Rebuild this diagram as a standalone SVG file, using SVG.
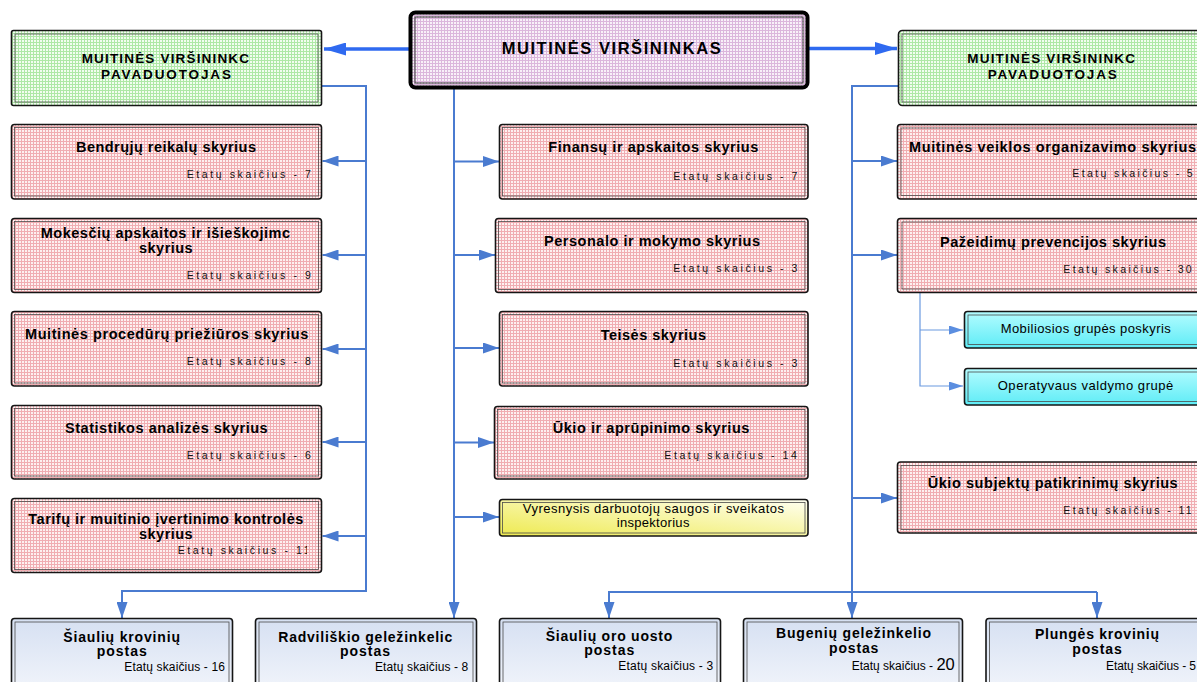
<svg xmlns="http://www.w3.org/2000/svg" width="1197" height="682" viewBox="0 0 1197 682">
<style>
.t{font-family:"Liberation Sans",Arial,sans-serif;font-weight:bold;font-size:14.5px;fill:#000}
.h{font-family:"Liberation Sans",Arial,sans-serif;font-weight:bold;font-size:13.5px;fill:#000}
.e{font-family:"Liberation Sans",Arial,sans-serif;font-size:10.5px;letter-spacing:2.6px;fill:#111}
.r{font-family:"Liberation Sans",Arial,sans-serif;font-size:13px;fill:#000}
.b{font-family:"Liberation Sans",Arial,sans-serif;font-weight:bold;font-size:14px;fill:#000}
.be{font-family:"Liberation Sans",Arial,sans-serif;font-size:12px;fill:#000}
.o{stroke:#151515;stroke-width:1.6}
.i{fill:none;stroke:#4a4a4a;stroke-width:0.8}
.c{fill:none;stroke:#4a7bd0;stroke-width:2}
.ct{fill:none;stroke:#2f6af0;stroke-width:3.5}
.cs{fill:none;stroke:#6b9ae0;stroke-width:1.2}
</style>
<defs>
<pattern id="pk" width="3" height="3" patternUnits="userSpaceOnUse"><rect width="3" height="3" fill="#fdf0f0"/><path d="M0 0.5H3M0.5 0V3" stroke="#f0adb2" stroke-width="1"/></pattern>
<pattern id="gr" width="3" height="3" patternUnits="userSpaceOnUse"><rect width="3" height="3" fill="#f2fdf0"/><path d="M0 0.5H3M0.5 0V3" stroke="#aee8a6" stroke-width="1"/></pattern>
<pattern id="lv" width="3" height="3" patternUnits="userSpaceOnUse"><rect width="3" height="3" fill="#f8f0f8"/><path d="M0 0.5H3M0.5 0V3" stroke="#dbb6dc" stroke-width="1"/></pattern>
<linearGradient id="cy" x1="0" y1="0" x2="0" y2="1"><stop offset="0" stop-color="#b4fcff"/><stop offset="1" stop-color="#5eecf6"/></linearGradient>
<linearGradient id="ye" x1="0" y1="1" x2="1" y2="0"><stop offset="0" stop-color="#eeea50"/><stop offset="1" stop-color="#fffff2"/></linearGradient>
<linearGradient id="bl" x1="0" y1="0" x2="0" y2="1"><stop offset="0" stop-color="#d6e0f2"/><stop offset="1" stop-color="#f2f5fb"/></linearGradient>
<marker id="a" markerUnits="userSpaceOnUse" markerWidth="16" markerHeight="11" viewBox="0 0 16 11" refX="16" refY="5.5" orient="auto"><path d="M0 0L16 5.5L0 11z" fill="#4a7bd0"/></marker>
<marker id="ab" markerUnits="userSpaceOnUse" markerWidth="22" markerHeight="13" viewBox="0 0 22 13" refX="22" refY="6.5" orient="auto"><path d="M0 0L22 6.5L0 13z" fill="#2f6af0"/></marker>
<marker id="as" markerUnits="userSpaceOnUse" markerWidth="14" markerHeight="9" viewBox="0 0 14 9" refX="14" refY="4.5" orient="auto"><path d="M0 0L14 4.5L0 9z" fill="#5b8ee0"/></marker>
<clipPath id="clip5"><rect x="11" y="498" width="296" height="75"/></clipPath>
</defs>
<rect width="1197" height="682" fill="#fff"/>

<g id="connectors">
<path class="ct" d="M409 49H324" marker-end="url(#ab)"/>
<path class="ct" d="M809 48.5H897" marker-end="url(#ab)"/>
<path class="c" d="M322 86H366V591H122V618" marker-end="url(#a)"/>
<path class="c" d="M366 161H322.5" marker-end="url(#a)"/>
<path class="c" d="M366 255H322.5" marker-end="url(#a)"/>
<path class="c" d="M366 349H322.5" marker-end="url(#a)"/>
<path class="c" d="M366 442H322.5" marker-end="url(#a)"/>
<path class="c" d="M366 536H322.5" marker-end="url(#a)"/>
<path class="c" d="M454 88V618" marker-end="url(#a)"/>
<path class="c" d="M454 161.5H499" marker-end="url(#a)"/>
<path class="c" d="M454 255H495" marker-end="url(#a)"/>
<path class="c" d="M454 348H499" marker-end="url(#a)"/>
<path class="c" d="M454 442.5H494" marker-end="url(#a)"/>
<path class="c" d="M454 517H499" marker-end="url(#a)"/>
<path class="c" d="M898 86H852V618" marker-end="url(#a)"/>
<path class="c" d="M852 161H897" marker-end="url(#a)"/>
<path class="c" d="M852 255H897" marker-end="url(#a)"/>
<path class="c" d="M852 498H897" marker-end="url(#a)"/>
<path class="c" d="M1097 592H609V618" marker-end="url(#a)"/>
<path class="c" d="M1097 592V618" marker-end="url(#a)"/>
<path class="cs" d="M920 293V386H963" marker-end="url(#as)"/>
<path class="cs" d="M920 330H963" marker-end="url(#as)"/>
</g>

<g id="virsininkas">
<rect x="410.5" y="12.5" width="397" height="75" rx="5" fill="url(#lv)" stroke="#000" stroke-width="4"/>
<rect x="415" y="17" width="388" height="66" fill="none" stroke="#333" stroke-width="1"/>
<text class="t" style="font-size:16.5px" x="501.7" y="54.3" textLength="219">MUITINĖS  VIRŠININKAS</text>
</g>

<g id="pavaduotojas-kairys">
<rect class="o" x="11.5" y="30.5" width="310" height="75" rx="2" fill="url(#gr)"/>
<rect class="i" x="15" y="34" width="303" height="68"/>
<text class="h" x="81.7" y="63.3" textLength="167.3">MUITINĖS VIRŠININKC</text>
<text class="h" x="101" y="79" textLength="130">PAVADUOTOJAS</text>
</g>

<g id="pavaduotojas-desinys">
<rect class="o" x="898.5" y="30.5" width="320" height="75" rx="4" fill="url(#gr)"/>
<rect class="i" x="902" y="34" width="313" height="68"/>
<text class="h" x="967.3" y="63.3" textLength="167.7">MUITINĖS VIRŠININKC</text>
<text class="h" x="987.7" y="79" textLength="129">PAVADUOTOJAS</text>
</g>

<g id="bendruju">
<rect class="o" x="11.5" y="124.5" width="310" height="74.5" rx="3" fill="url(#pk)"/>
<rect class="i" x="14.5" y="127.5" width="304" height="68.5"/>
<text class="t" x="76" y="152.3" textLength="180">Bendrųjų reikalų skyrius</text>
<text class="e" x="186.7" y="177.7">Etatų skaičius - 7</text>
</g>
<g id="mokesciu">
<rect class="o" x="11.5" y="218.5" width="310" height="74" rx="3" fill="url(#pk)"/>
<rect class="i" x="14.5" y="221.5" width="304" height="68"/>
<text class="t" x="40.7" y="238.3" textLength="249.3">Mokesčių apskaitos ir išieškojimc</text>
<text class="t" x="139" y="252.7" textLength="53.7">skyrius</text>
<text class="e" x="186.7" y="279.3">Etatų skaičius - 9</text>
</g>
<g id="proceduru">
<rect class="o" x="11.5" y="311.5" width="310" height="74.5" rx="3" fill="url(#pk)"/>
<rect class="i" x="14.5" y="314.5" width="304" height="68.5"/>
<text class="t" x="25" y="339.3" textLength="283.3">Muitinės procedūrų priežiūros skyrius</text>
<text class="e" x="186.7" y="365">Etatų skaičius - 8</text>
</g>
<g id="statistikos">
<rect class="o" x="11.5" y="405.5" width="310" height="73.5" rx="3" fill="url(#pk)"/>
<rect class="i" x="14.5" y="408.5" width="304" height="67.5"/>
<text class="t" x="65" y="432.7" textLength="202.7">Statistikos analizės skyrius</text>
<text class="e" x="186.7" y="459">Etatų skaičius - 6</text>
</g>
<g id="tarifu">
<rect class="o" x="11.5" y="498.5" width="310" height="74" rx="3" fill="url(#pk)"/>
<rect class="i" x="14.5" y="501.5" width="304" height="68"/>
<text class="t" x="28.3" y="524.3" textLength="275">Tarifų ir muitinio įvertinimo kontrolės</text>
<text class="t" x="139" y="539.3" textLength="53.7">skyrius</text>
<text class="e" x="177.7" y="553.7" clip-path="url(#clip5)">Etatų skaičius - 11</text>
</g>

<g id="finansu">
<rect class="o" x="499.5" y="124.5" width="308.5" height="74.5" rx="3" fill="url(#pk)"/>
<rect class="i" x="502.5" y="127.5" width="302.5" height="68.5"/>
<text class="t" x="548.3" y="152.3" textLength="210">Finansų ir apskaitos skyrius</text>
<text class="e" x="673.3" y="180">Etatų skaičius - 7</text>
</g>
<g id="personalo">
<rect class="o" x="495.5" y="218.5" width="312.5" height="74" rx="3" fill="url(#pk)"/>
<rect class="i" x="498.5" y="221.5" width="306.5" height="68"/>
<text class="t" x="544" y="245.7" textLength="216">Personalo ir mokymo skyrius</text>
<text class="e" x="673.3" y="271.7">Etatų skaičius - 3</text>
</g>
<g id="teises">
<rect class="o" x="499.5" y="311.5" width="308.5" height="74.5" rx="3" fill="url(#pk)"/>
<rect class="i" x="502.5" y="314.5" width="302.5" height="68.5"/>
<text class="t" x="600.7" y="340" textLength="105.3">Teisės skyrius</text>
<text class="e" x="673.3" y="366.7">Etatų skaičius - 3</text>
</g>
<g id="ukio">
<rect class="o" x="494.5" y="406.5" width="313.5" height="72.5" rx="3" fill="url(#pk)"/>
<rect class="i" x="497.5" y="409.5" width="307.5" height="66.5"/>
<text class="t" x="552.7" y="432.7" textLength="196.7">Ūkio ir aprūpinimo skyrius</text>
<text class="e" x="664.3" y="459">Etatų skaičius - 14</text>
</g>
<g id="inspektorius">
<rect class="o" x="499.5" y="499.5" width="308.5" height="36.5" rx="3" fill="url(#ye)"/>
<rect class="i" x="502.5" y="502.5" width="302.5" height="30.5"/>
<text class="r" x="522.7" y="513.3" textLength="261.3">Vyresnysis darbuotojų saugos ir sveikatos</text>
<text class="r" x="616.7" y="526.5" textLength="72.7">inspektorius</text>
</g>

<g id="veiklos">
<rect class="o" x="897.5" y="124.5" width="320" height="74.5" rx="3" fill="url(#pk)"/>
<rect class="i" x="901" y="128" width="313" height="67.5"/>
<text class="t" x="909" y="152.3" textLength="287">Muitinės veiklos  organizavimo skyrius</text>
<text class="e" x="1072.3" y="177.3" textLength="123">Etatų skaičius - 5</text>
</g>
<g id="prevencijos">
<rect class="o" x="897.5" y="218.5" width="320" height="74" rx="3" fill="url(#pk)"/>
<rect class="i" x="902" y="222" width="313" height="67"/>
<text class="t" x="940" y="246.7" textLength="226">Pažeidimų prevencijos skyrius</text>
<text class="e" x="1063.3" y="273.3" textLength="131">Etatų skaičius - 30</text>
</g>
<g id="mobiliosios">
<rect class="o" x="964.5" y="311.5" width="250" height="36.5" rx="3" fill="url(#cy)"/>
<rect class="i" x="968" y="315" width="243" height="29.5"/>
<text class="r" x="1000.7" y="333.3" textLength="170">Mobiliosios grupės poskyris</text>
</g>
<g id="operatyvaus">
<rect class="o" x="964.5" y="368.5" width="250" height="36.5" rx="3" fill="url(#cy)"/>
<rect class="i" x="968" y="372" width="243" height="29.5"/>
<text class="r" x="997.7" y="390" textLength="175.6">Operatyvaus valdymo grupė</text>
</g>
<g id="patikrinimu">
<rect class="o" x="897.5" y="462" width="320" height="71" rx="3" fill="url(#pk)"/>
<rect class="i" x="901" y="465.5" width="313" height="64"/>
<text class="t" x="927.7" y="488.3" textLength="250">Ūkio subjektų patikrinimų skyrius</text>
<text class="e" x="1063.3" y="514" textLength="131">Etatų skaičius - 11</text>
</g>

<g id="siauliu-kroviniu">
<rect class="o" x="11.5" y="618.5" width="221" height="75" rx="3" fill="url(#bl)"/>
<rect class="i" x="15" y="622" width="214" height="68"/>
<text class="b" x="63.3" y="641.5" textLength="116.7">Šiaulių krovinių</text>
<text class="b" x="96.7" y="656" textLength="50">postas</text>
<text class="be" x="124.3" y="670.7" textLength="100.7">Etatų skaičius - 16</text>
</g>
<g id="radviliskio">
<rect class="o" x="255.5" y="618.5" width="221" height="75" rx="3" fill="url(#bl)"/>
<rect class="i" x="259" y="622" width="214" height="68"/>
<text class="b" x="278.3" y="641.5" textLength="174">Radviliškio geležinkelic</text>
<text class="b" x="340" y="656" textLength="50">postas</text>
<text class="be" x="375" y="670.5" textLength="93.3">Etatų skaičius - 8</text>
</g>
<g id="oro-uosto">
<rect class="o" x="499.5" y="618.5" width="221" height="75" rx="3" fill="url(#bl)"/>
<rect class="i" x="503" y="622" width="214" height="68"/>
<text class="b" x="545.7" y="640.5" textLength="126.6">Šiaulių oro uosto</text>
<text class="b" x="584.3" y="655" textLength="50">postas</text>
<text class="be" x="618.3" y="670" textLength="95">Etatų skaičius - 3</text>
</g>
<g id="bugeniu">
<rect class="o" x="743.5" y="618.5" width="219" height="75" rx="3" fill="url(#bl)"/>
<rect class="i" x="747" y="622" width="212" height="68"/>
<text class="b" x="776" y="638.3" textLength="155">Bugenių geležinkelio</text>
<text class="b" x="829" y="653.3" textLength="49.3">postas</text>
<text class="be" x="851.7" y="670">Etatų skaičius - <tspan style="font-size:16.5px">20</tspan></text>
</g>
<g id="plunges">
<rect class="o" x="986" y="618.5" width="230" height="75" rx="3" fill="url(#bl)"/>
<rect class="i" x="989.5" y="622" width="223" height="68"/>
<text class="b" x="1035" y="639.3" textLength="124">Plungės krovinių</text>
<text class="b" x="1072.3" y="654" textLength="49.4">postas</text>
<text class="be" x="1106" y="670" textLength="90">Etatų skaičius - 5</text>
</g>
</svg>
